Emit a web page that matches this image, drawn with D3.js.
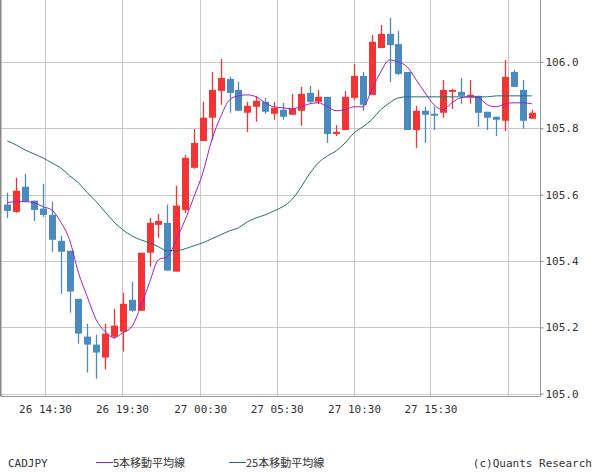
<!DOCTYPE html>
<html><head><meta charset="utf-8">
<script src="https://cdn.jsdelivr.net/npm/d3@7"></script>
<style>body{margin:0;background:#fff}</style></head>
<body><svg id="c" width="600" height="475"></svg>
<script>
// [open, high, low, close]
const candles = [
[105.570,105.606,105.530,105.551],[105.548,105.651,105.545,105.612],[105.624,105.663,105.579,105.579],[105.582,105.582,105.521,105.554],
[105.558,105.633,105.533,105.539],[105.539,105.579,105.428,105.464],[105.461,105.476,105.301,105.428],[105.431,105.431,105.244,105.308],
[105.286,105.286,105.151,105.181],[105.172,105.211,105.064,105.148],[105.148,105.178,105.045,105.124],[105.109,105.211,105.073,105.181],
[105.172,105.256,105.166,105.205],[105.187,105.304,105.127,105.271],[105.283,105.338,105.247,105.250],[105.250,105.425,105.250,105.425],
[105.425,105.530,105.383,105.515],[105.509,105.542,105.470,105.521],[105.515,105.570,105.371,105.371],[105.368,105.627,105.368,105.567],
[105.554,105.720,105.545,105.711],[105.681,105.798,105.678,105.756],[105.762,105.880,105.762,105.832],[105.832,105.970,105.765,105.916],
[105.913,106.009,105.871,105.952],[105.949,105.955,105.847,105.907],[105.916,105.940,105.853,105.853],[105.847,105.880,105.789,105.868],
[105.865,105.898,105.820,105.883],[105.880,105.892,105.844,105.850],[105.844,105.880,105.826,105.862],[105.856,105.877,105.826,105.835],
[105.841,105.904,105.841,105.859],[105.853,105.925,105.808,105.904],[105.907,105.928,105.874,105.880],[105.880,105.916,105.874,105.895],
[105.895,105.895,105.756,105.783],[105.783,105.810,105.777,105.789],[105.795,105.913,105.795,105.895],[105.892,105.994,105.886,105.958],
[105.958,105.970,105.853,105.871],[105.901,106.082,105.901,106.061],[106.042,106.112,106.042,106.085],[106.085,106.133,105.940,106.051],
[106.054,106.094,105.961,105.964],[105.970,105.970,105.795,105.795],[105.795,105.868,105.741,105.853],[105.853,105.865,105.756,105.841],
[105.844,105.865,105.795,105.838],[105.847,105.946,105.832,105.916],[105.910,105.919,105.859,105.916],[105.910,105.952,105.874,105.898],
[105.895,105.946,105.874,105.901],[105.898,105.898,105.805,105.847],[105.850,105.850,105.795,105.832],[105.835,105.835,105.777,105.826],
[105.823,106.006,105.792,105.955],[105.970,105.976,105.925,105.925],[105.916,105.946,105.799,105.823],[105.829,105.856,105.829,105.847]];
const ma5 = [105.576,105.579,105.579,105.576,105.564,105.554,105.518,105.464,105.365,105.292,105.223,105.187,105.169,105.184,105.202,105.262,105.335,105.404,105.413,105.464,105.524,
105.594,105.666,105.765,105.835,105.886,105.898,105.901,105.895,105.877,105.865,105.862,105.859,105.865,105.874,105.877,105.865,105.853,
105.856,105.865,105.865,105.916,105.970,106.006,106.000,105.985,105.946,105.907,105.871,105.856,105.877,105.892,105.895,105.892,105.871,105.865,105.874,105.877,105.877,105.874];
const ma25 = [105.762,105.750,105.735,105.723,105.711,105.696,105.681,105.657,105.636,105.606,105.579,105.548,105.518,105.494,105.476,105.464,105.455,105.443,105.431,105.431,
105.437,105.446,105.455,105.467,105.479,105.491,105.500,105.518,105.530,105.539,105.551,105.564,105.585,105.621,105.663,105.696,105.717,105.732,105.756,105.786,
105.805,105.826,105.856,105.877,105.892,105.895,105.895,105.895,105.895,105.895,105.895,105.895,105.895,105.895,105.895,105.898,105.898,105.898,105.898,105.898];
const xTickIdx = [4.24,12.9,21.7,30.3,39.0,47.6,56.3];
const xTickLabels = ["26 14:30","26 19:30","27 00:30","27 05:30","27 10:30","27 15:30",""];
const yTicks = [105.0,105.2,105.4,105.6,105.8,106.0];

const svg = d3.select("#c");
const W = 540, H = 396;
const x = d3.scaleLinear().domain([0,59]).range([7.3,531.8]);
const y = d3.scaleLinear().domain([104.993,106.187]).range([H,0]);
const font = "'DejaVu Sans Mono', monospace";

const g = svg.append("g");
g.selectAll(".hg").data(yTicks).enter().append("line")
 .attr("x1",0).attr("x2",W).attr("y1",d=>Math.round(y(d))+0.5).attr("y2",d=>Math.round(y(d))+0.5)
 .attr("stroke","#c8c8c8");
g.selectAll(".vg").data(xTickIdx).enter().append("line")
 .attr("y1",0).attr("y2",H).attr("x1",d=>Math.round(x(d))+0.5).attr("x2",d=>Math.round(x(d))+0.5)
 .attr("stroke","#c8c8c8");
// frame
g.append("path").attr("d",`M0.5,0V${H+0.5}H${W+0.5}V0`).attr("fill","none").attr("stroke","#999");
g.append("line").attr("x1",0.5).attr("x2",0.5).attr("y1",0).attr("y2",H).attr("stroke","#888").attr("stroke-width",2);

// y axis
const ya = svg.append("g").attr("transform",`translate(${W+0.5},0)`)
 .call(d3.axisRight(y).tickValues(yTicks).tickSize(3).tickFormat(d3.format(".1f")));
ya.select(".domain").remove();
ya.selectAll("line").attr("stroke","#888");
ya.selectAll("text").attr("font-family",font).attr("font-size",11).attr("fill","#333").attr("x",5);

// x axis
const xa = svg.append("g").attr("transform",`translate(0,${H})`)
 .call(d3.axisBottom(x).tickValues(xTickIdx).tickSize(0).tickFormat((d,i)=>xTickLabels[i]));
xa.select(".domain").remove();
xa.selectAll("text").attr("font-family",font).attr("font-size",11).attr("fill","#333").attr("dy","1.25em");

// candles
const cg = svg.append("g");
candles.forEach((c,i)=>{
  const up = c[3] >= c[0];
  const col = up ? "#f43434" : "#4a8abf";
  const cx = Math.round(x(i))+0.5;
  cg.append("line").attr("x1",cx).attr("x2",cx).attr("y1",y(c[1])).attr("y2",y(c[2])).attr("stroke",col).attr("stroke-width",1.3);
  const top = y(Math.max(c[0],c[3])), bot = y(Math.min(c[0],c[3]));
  cg.append("rect").attr("x",cx-3.5).attr("width",7).attr("y",top).attr("height",Math.max(1.5,bot-top)).attr("fill",col);
});

const line = d3.line().x((d,i)=>x(i)).y(d=>y(d)).curve(d3.curveMonotoneX);
svg.append("path").datum(ma25).attr("d",line).attr("fill","none").attr("stroke","#1f7070").attr("stroke-width",1);
svg.append("path").datum(ma5).attr("d",line).attr("fill","none").attr("stroke","#a020c0").attr("stroke-width",1);

// legend
const ly = 467;
svg.append("text").attr("x",8).attr("y",ly).text("CADJPY").attr("font-family",font).attr("font-size",11).attr("fill","#333");
svg.append("line").attr("x1",96).attr("x2",113).attr("y1",ly-4.5).attr("y2",ly-4.5).attr("stroke","#a020c0");
svg.append("text").attr("x",113).attr("y",ly).text("5本移動平均線").attr("font-family","'Noto Sans CJK JP', "+font).attr("font-size",11).attr("fill","#333");
svg.append("line").attr("x1",229).attr("x2",246).attr("y1",ly-4.5).attr("y2",ly-4.5).attr("stroke","#1f7070");
svg.append("text").attr("x",246).attr("y",ly).text("25本移動平均線").attr("font-family","'Noto Sans CJK JP', "+font).attr("font-size",11).attr("fill","#333");
svg.append("text").attr("x",592).attr("y",ly).attr("text-anchor","end").text("(c)Quants Research").attr("font-family",font).attr("font-size",11).attr("fill","#333");
</script></body></html>
